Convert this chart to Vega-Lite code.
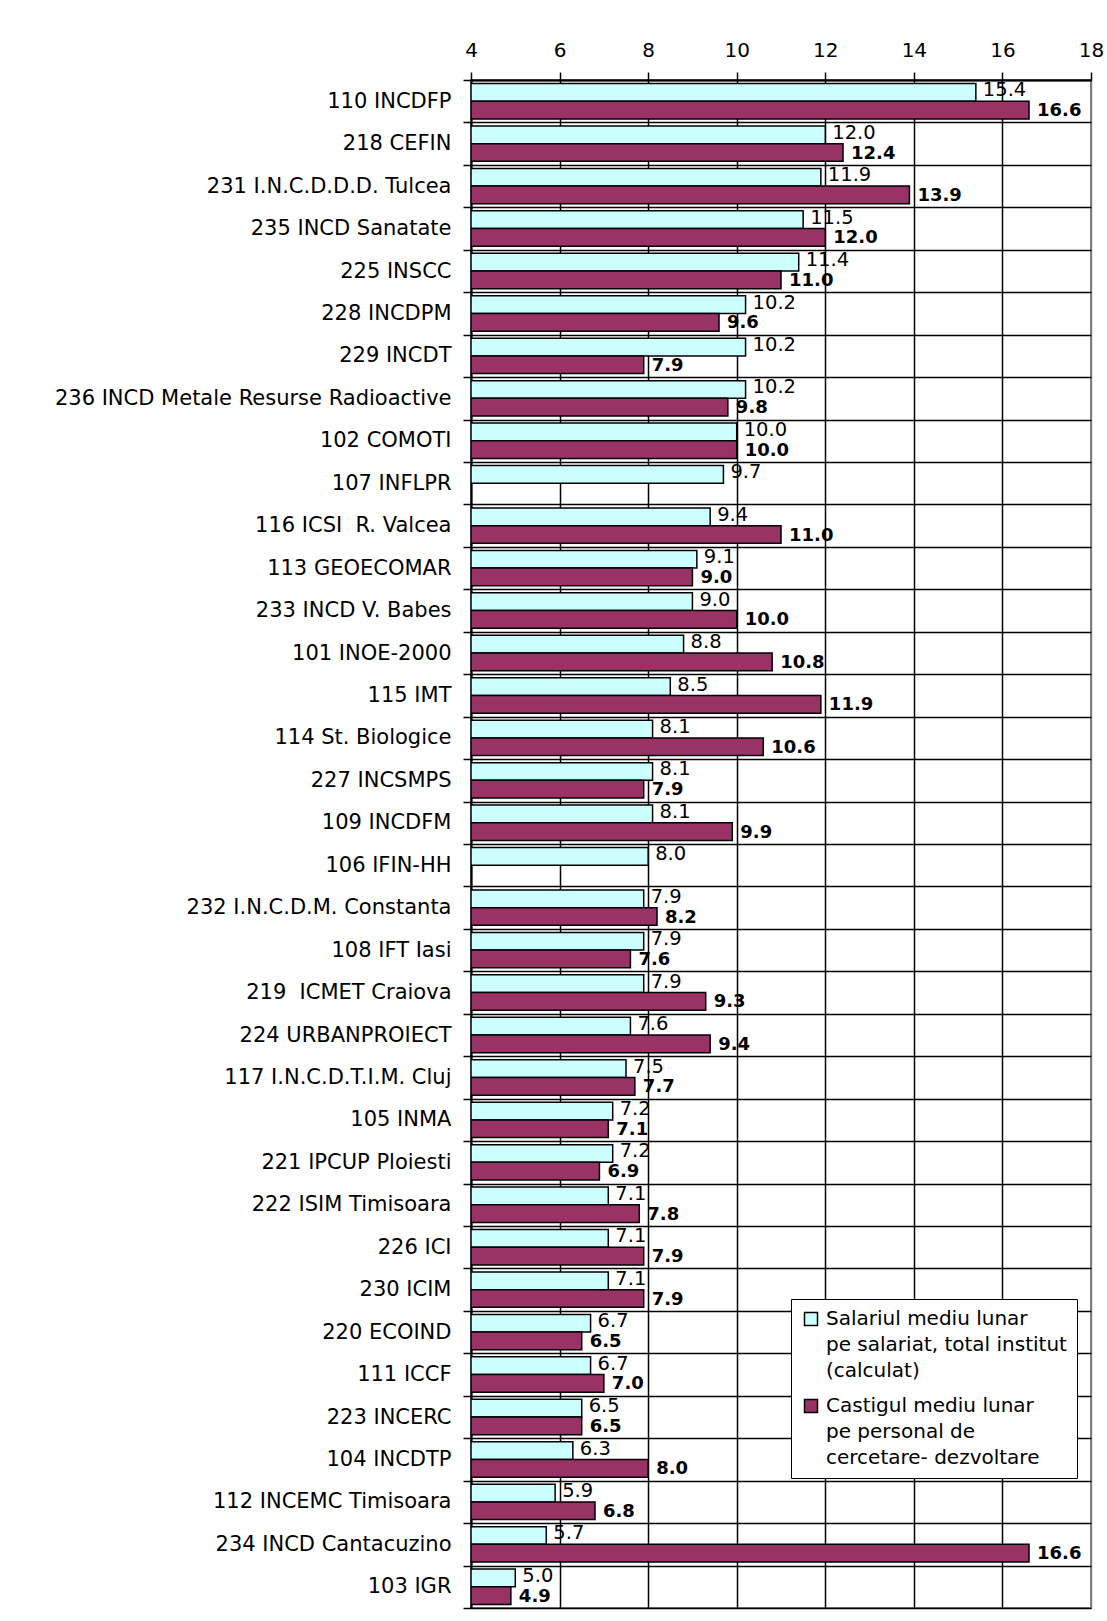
{
  "$schema": "https://vega.github.io/schema/vega-lite/v6.json",
  "width": 620,
  "height": 1528,
  "padding": 5,
  "background": "white",
  "config": {
    "font": "DejaVu Sans",
    "view": {"stroke": "#808080", "strokeWidth": 2},
    "axis": {"labelFont": "DejaVu Sans", "labelColor": "black", "tickColor": "black", "domainColor": "black"}
  },
  "data": {
    "values": [
      {"n": "110 INCDFP", "a": 15.4, "b": 16.6},
      {"n": "218 CEFIN", "a": 12.0, "b": 12.4},
      {"n": "231 I.N.C.D.D.D. Tulcea", "a": 11.9, "b": 13.9},
      {"n": "235 INCD Sanatate", "a": 11.5, "b": 12.0},
      {"n": "225 INSCC", "a": 11.4, "b": 11.0},
      {"n": "228 INCDPM", "a": 10.2, "b": 9.6},
      {"n": "229 INCDT", "a": 10.2, "b": 7.9},
      {"n": "236 INCD Metale Resurse Radioactive", "a": 10.2, "b": 9.8},
      {"n": "102 COMOTI", "a": 10.0, "b": 10.0},
      {"n": "107 INFLPR", "a": 9.7},
      {"n": "116 ICSI\u00a0 R. Valcea", "a": 9.4, "b": 11.0},
      {"n": "113 GEOECOMAR", "a": 9.1, "b": 9.0},
      {"n": "233 INCD V. Babes", "a": 9.0, "b": 10.0},
      {"n": "101 INOE-2000", "a": 8.8, "b": 10.8},
      {"n": "115 IMT", "a": 8.5, "b": 11.9},
      {"n": "114 St. Biologice", "a": 8.1, "b": 10.6},
      {"n": "227 INCSMPS", "a": 8.1, "b": 7.9},
      {"n": "109 INCDFM", "a": 8.1, "b": 9.9},
      {"n": "106 IFIN-HH", "a": 8.0},
      {"n": "232 I.N.C.D.M. Constanta", "a": 7.9, "b": 8.2},
      {"n": "108 IFT Iasi", "a": 7.9, "b": 7.6},
      {"n": "219\u00a0 ICMET Craiova", "a": 7.9, "b": 9.3},
      {"n": "224 URBANPROIECT", "a": 7.6, "b": 9.4},
      {"n": "117 I.N.C.D.T.I.M. Cluj", "a": 7.5, "b": 7.7},
      {"n": "105 INMA", "a": 7.2, "b": 7.1},
      {"n": "221 IPCUP Ploiesti", "a": 7.2, "b": 6.9},
      {"n": "222 ISIM Timisoara", "a": 7.1, "b": 7.8},
      {"n": "226 ICI", "a": 7.1, "b": 7.9},
      {"n": "230 ICIM", "a": 7.1, "b": 7.9},
      {"n": "220 ECOIND", "a": 6.7, "b": 6.5},
      {"n": "111 ICCF", "a": 6.7, "b": 7.0},
      {"n": "223 INCERC", "a": 6.5, "b": 6.5},
      {"n": "104 INCDTP", "a": 6.3, "b": 8.0},
      {"n": "112 INCEMC Timisoara", "a": 5.9, "b": 6.8},
      {"n": "234 INCD Cantacuzino", "a": 5.7, "b": 16.6},
      {"n": "103 IGR", "a": 5.0, "b": 4.9}
    ]
  },
  "transform": [
    {"fold": ["a", "b"], "as": ["key", "value"]},
    {"filter": "isValid(datum.value)"}
  ],
  "encoding": {
    "y": {
      "field": "n", "type": "nominal", "sort": null,
      "scale": {"paddingInner": 0, "paddingOuter": 0},
      "axis": {
        "title": null, "tickBand": "extent", "grid": true, "gridColor": "black", "gridWidth": 1.5,
        "tickSize": 8, "tickWidth": 1.5, "domainWidth": 2,
        "labelFontSize": 21, "labelPadding": 12, "labelLimit": 0,
        "minExtent": 466, "maxExtent": 466
      }
    },
    "yOffset": {
      "field": "key", "type": "nominal", "sort": ["a", "b"],
      "scale": {"paddingOuter": 0.2, "paddingInner": 0}
    },
    "x": {
      "field": "value", "type": "quantitative",
      "scale": {"domain": [4, 18], "zero": false, "nice": false},
      "axis": {
        "orient": "top", "title": null, "values": [4, 6, 8, 10, 12, 14, 16, 18],
        "grid": true,
        "gridColor": {"condition": {"test": "datum.value == 18", "value": "#808080"}, "value": "black"},
        "gridWidth": 1.5, "tickSize": 8, "tickWidth": 1.5, "domainWidth": 2,
        "labelFontSize": 20, "labelBaseline": "alphabetic", "labelPadding": 16, "labelFlush": false,
        "minExtent": 75, "maxExtent": 75
      }
    }
  },
  "layer": [
    {
      "mark": {"type": "bar", "stroke": "black", "strokeWidth": 1.5, "clip": true},
      "encoding": {
        "x2": {"datum": 4},
        "color": {
          "field": "key", "type": "nominal",
          "scale": {"domain": ["a", "b"], "range": ["#CCFFFF", "#993366"]},
          "legend": {
            "orient": "none", "legendX": 320, "legendY": 1219, "title": null,
            "strokeColor": "black", "fillColor": "white", "padding": 10,
            "labelFontSize": 20, "labelLimit": 0, "labelOffset": 5, "labelColor": "black",
            "labelExpr": "datum.value == 'a' ? ['Salariul mediu lunar', 'pe salariat, total institut', '(calculat)'] : ['Castigul mediu lunar', 'pe personal de', 'cercetare- dezvoltare']",
            "symbolType": "square", "symbolSize": 169, "symbolStrokeColor": "black", "symbolStrokeWidth": 1.5,
            "rowPadding": 15,
            "encode": {"labels": {"update": {"lineHeight": {"value": 26}}}}
          }
        }
      }
    },
    {
      "transform": [{"filter": "datum.key == 'a'"}],
      "mark": {"type": "text", "align": "left", "baseline": "middle", "dx": 7, "dy": -2, "fontSize": 19.5, "color": "black"},
      "encoding": {"text": {"field": "value", "type": "quantitative", "format": ".1f"}}
    },
    {
      "transform": [{"filter": "datum.key == 'b'"}],
      "mark": {"type": "text", "align": "left", "baseline": "middle", "dx": 8, "dy": 1, "fontSize": 18, "fontWeight": "bold", "color": "black"},
      "encoding": {"text": {"field": "value", "type": "quantitative", "format": ".1f"}}
    }
  ]
}
